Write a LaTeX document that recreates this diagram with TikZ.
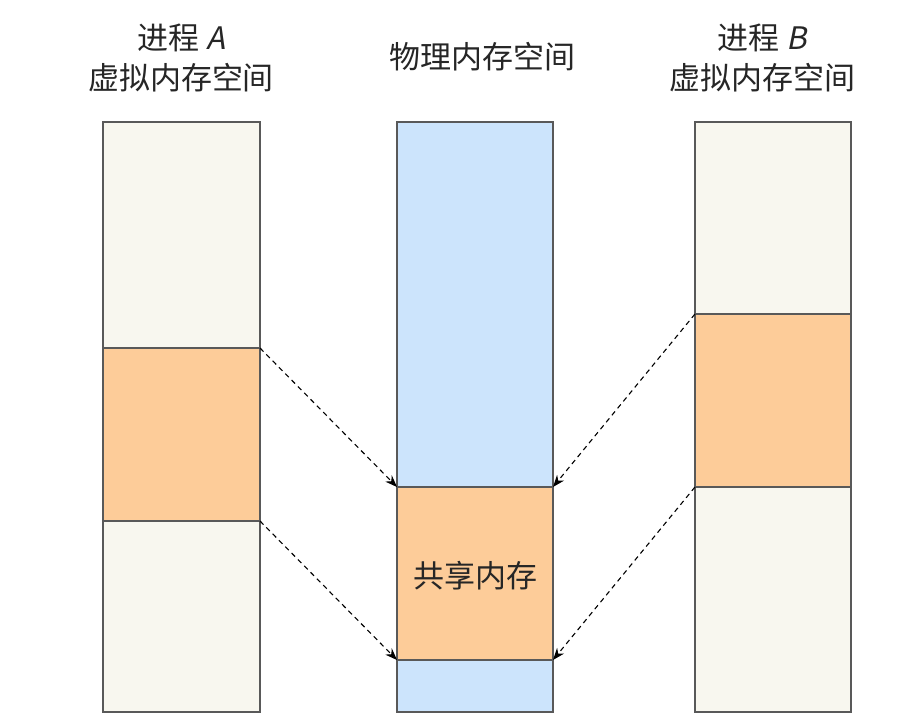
\documentclass[tikz,border=0pt]{standalone}
\usepackage{fontspec}
\setmainfont{Noto Sans CJK SC}
\usetikzlibrary{arrows.meta}
\newcommand{\slt}[1]{{\addfontfeature{FakeSlant=0.2}#1}}
\begin{document}
\begin{tikzpicture}[x=1pt,y=-1pt,
  blk/.style={draw=black!65,line width=1.2pt},
  lbl/.style={font=\fontsize{31}{40}\selectfont,text=black!85},
  arr/.style={dash pattern=on 5pt off 4pt,line width=1.1pt,-{Stealth[length=12pt,width=9pt]}}]
\useasboundingbox (0,0) rectangle (919,725);
\fill[white] (0,0) rectangle (919,725);
% left
\filldraw[blk,fill={rgb,255:red,248;green,247;blue,239}] (103,122) rectangle (260,712);
\filldraw[blk,fill={rgb,255:red,253;green,204;blue,153}] (103,348) rectangle (260,521);
\coordinate (a1) at (260,348); \coordinate (a2) at (260,521);
% middle
\filldraw[blk,fill={rgb,255:red,204;green,228;blue,252}] (397,122) rectangle (553,712);
\filldraw[blk,fill={rgb,255:red,253;green,204;blue,153}] (397,487) rectangle (553,660);
\node[lbl] (sh) at (475,576) {共享内存};
\coordinate (m1) at (397,487); \coordinate (m2) at (397,660);
\coordinate (n1) at (553,487); \coordinate (n2) at (553,660);
% right
\filldraw[blk,fill={rgb,255:red,248;green,247;blue,239}] (695,122) rectangle (851,712);
\filldraw[blk,fill={rgb,255:red,253;green,204;blue,153}] (695,314) rectangle (851,487);
\coordinate (b1) at (695,314); \coordinate (b2) at (695,487);
% titles
\node[lbl,align=center] (ta) at (181,58) {进程 \slt{A}\\虚拟内存空间};
\node[lbl] (tm) at (482,57) {物理内存空间};
\node[lbl,align=center] (tb) at (762,58) {进程 \slt{B}\\虚拟内存空间};
% arrows
\draw[arr] (a1) -- (m1);
\draw[arr] (a2) -- (m2);
\draw[arr] (b1) -- (n1);
\draw[arr] (b2) -- (n2);
\end{tikzpicture}
\end{document}
